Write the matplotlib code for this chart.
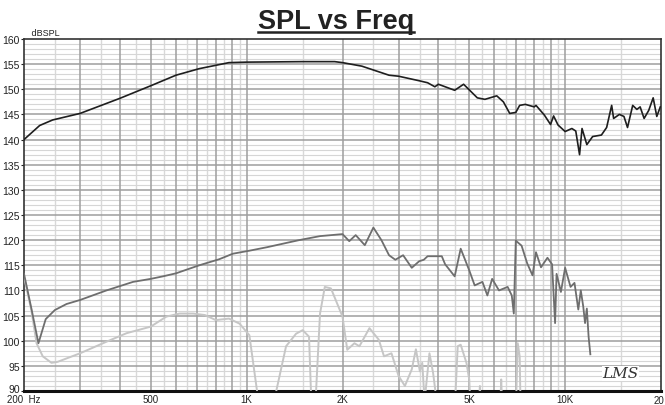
import matplotlib
matplotlib.use('Agg')
import matplotlib.pyplot as plt
import matplotlib.transforms as mtransforms
import numpy as np

plt.rcParams['font.family'] = ['Liberation Sans', 'DejaVu Sans']

# ---------------- data ----------------
fund_f = [200, 224, 246, 300, 400, 500, 600, 710, 880, 1000, 1500, 1890, 2000, 2300, 2800,
          3000, 3480, 3700, 3900, 4000, 4500, 4800, 5300, 5600, 6100, 6400, 6700, 7000, 7200,
          7500, 8000, 8100, 8600, 9000, 9200, 9500, 10000, 10500, 10800, 11100, 11300, 11700,
          12200, 13000, 13500, 14000, 14200, 14800, 15300, 15700, 16300, 16800, 17200, 17700,
          18300, 18900, 19400, 19900]
fund_db = [140.0, 142.8, 143.9, 145.2, 148.2, 150.7, 152.8, 154.1, 155.3, 155.4, 155.5, 155.5,
           155.3, 154.6, 152.8, 152.6, 151.7, 151.3, 150.5, 151.0, 149.8, 151.0, 148.3, 148.0,
           148.7, 147.5, 145.2, 145.4, 146.8, 147.0, 146.5, 146.8, 144.9, 143.0, 144.7, 142.9,
           141.6, 142.2, 141.7, 137.0, 142.2, 139.0, 140.6, 140.9, 142.4, 146.8, 144.2, 145.0,
           144.6, 142.4, 146.8, 146.0, 146.5, 144.2, 145.8, 148.3, 144.6, 146.5]

h2_f = [200, 211, 222, 234, 250, 272, 300, 363, 440, 500, 546, 600, 710, 820, 905, 1020, 1160,
        1460, 1700, 2000, 2100, 2200, 2350, 2500, 2650, 2800, 2930, 3100, 3300, 3480, 3600,
        3700, 4000, 4100, 4200, 4500, 4700, 5000, 5200, 5500, 5700, 5900, 6200, 6600, 6800,
        6900, 7000, 7300, 7600, 7900, 8100, 8400, 8800, 9100, 9300, 9400, 9700, 10000, 10400,
        10700, 11000, 11200, 11400, 11550, 11700, 11850, 12000]
h2_db = [113.3, 106.4, 99.5, 104.3, 106.1, 107.3, 108.1, 110.0, 111.7, 112.3, 112.8, 113.4,
         115.0, 116.2, 117.3, 117.9, 118.6, 120.0, 120.8, 121.2, 119.8, 121.0, 119.0, 122.5,
         120.0, 117.0, 116.1, 117.0, 114.5, 115.8, 116.1, 116.8, 116.8, 116.8, 115.2, 112.8,
         118.3, 114.0, 111.0, 111.7, 109.0, 112.3, 110.0, 110.7, 109.0, 105.4, 119.9, 118.9,
         115.4, 113.0, 117.6, 114.6, 116.5, 115.2, 103.5, 113.3, 109.7, 114.5, 110.7, 111.5,
         106.2, 110.0, 106.8, 103.5, 106.4, 100.8, 97.3]

h3_f = [200, 211, 219, 229, 244, 255, 300, 363, 420, 500, 560, 616, 680, 740, 800, 880, 950,
        1020, 1100, 1200, 1330, 1430, 1500, 1570, 1600, 1640, 1700, 1760, 1840, 2000, 2070,
        2180, 2260, 2430, 2600, 2700, 2850, 3000, 3140, 3300, 3400, 3500, 3560, 3620, 3750,
        3850, 3950, 4000, 4500, 4600, 4700, 4900, 5000, 5050, 5350, 5400, 5450, 6250, 6300,
        6350, 7000, 7100, 7200, 7250]
h3_db = [112.7, 106.0, 99.5, 96.9, 95.6, 95.8, 97.5, 99.8, 101.5, 102.8, 104.8, 105.4, 105.4,
         105.1, 104.1, 104.4, 103.4, 101.1, 86.0, 86.0, 98.9, 101.4, 102.1, 100.8, 86.0, 86.0,
         105.4, 110.7, 110.4, 104.8, 98.2, 99.5, 98.9, 102.5, 100.2, 96.9, 97.5, 93.0, 91.0,
         94.3, 98.3, 93.9, 95.6, 88.0, 97.5, 93.6, 88.0, 86.0, 86.0, 98.9, 99.2, 95.6, 92.3,
         86.0, 86.0, 91.0, 86.0, 86.0, 92.3, 86.0, 86.0, 99.5, 96.9, 86.0]

x_ticks = [200, 500, 1000, 2000, 5000, 10000]
x_labels = ['200  Hz', '500', '1K', '2K', '5K', '10K']
y_ticks = list(range(90, 161, 5))

# ---------------- figure ----------------
W, H = 665, 406
fig = plt.figure(figsize=(W / 100, H / 100), dpi=100)
fig.patch.set_facecolor('white')
L, R, T, B = 24, 661, 40, 392
ax = fig.add_axes([L / W, 1 - B / H, (R - L) / W, (B - T) / H])
ax.set_xscale('log')
ax.set_xlim(200, 20000)
ax.set_ylim(90, 160)

# grid
dark_v = list(range(300, 1001, 100)) + list(range(2000, 10001, 1000))
light_v = list(range(250, 1000, 100)) + [1500] + list(range(2500, 10000, 1000)) + [15000]
for v in light_v:
    ax.axvline(v, color='#d9d9d9', lw=1.0, zorder=1)
for v in dark_v:
    ax.axvline(v, color='#9e9e9e', lw=1.1, zorder=2)
for yv in range(91, 160):
    if yv % 5:
        ax.axhline(yv, color='#d6d6d6', lw=0.8, zorder=1)
for yv in range(95, 160, 5):
    ax.axhline(yv, color='#9e9e9e', lw=1.1, zorder=2)

# curves
ax.plot(h3_f, h3_db, color='#c6c6c6', lw=1.4, zorder=3)
ax.plot(h2_f, h2_db, color='#6e6e6e', lw=1.3, zorder=4)
ax.plot(fund_f, fund_db, color='#1e1e1e', lw=1.2, zorder=5)

# axes styling
ax.set_xticks(x_ticks)
ax.set_xticklabels(x_labels)
ax.minorticks_off()
ax.set_yticks(y_ticks)
ax.set_yticklabels([str(v) for v in y_ticks])
ax.tick_params(axis='x', length=0, labelsize=7, colors='#222222', pad=2.5)
ax.tick_params(axis='y', length=2, width=0.8, pad=1, labelsize=7.5, colors='#222222')
for s in ['left', 'top', 'right']:
    ax.spines[s].set_color('#333333')
    ax.spines[s].set_linewidth(1.2)
ax.spines['bottom'].set_color('#111111')
ax.spines['bottom'].set_linewidth(2.2)

# nudge the lowest y label up a little so it clears the "200 Hz" label
lbl90 = ax.get_yticklabels()[0]
lbl90.set_transform(lbl90.get_transform() +
                    mtransforms.ScaledTranslation(0, 3 / 100, fig.dpi_scale_trans))

fig.text(664 / W, 1 - 396 / H, '20', ha='right', va='top', fontsize=7, color='#222222')
ax.text(0.0, 1.005, '   dBSPL', transform=ax.transAxes, ha='left', va='bottom',
        fontsize=6.5, color='#222222')
ax.text(0.965, 0.03, 'LMS', transform=ax.transAxes, ha='right', va='bottom',
        fontsize=11, style='italic', family='DejaVu Serif', color='#333333', zorder=6,
        bbox=dict(facecolor='white', edgecolor='none', pad=0.5))

# title with underline
t = fig.text(0.505, 1 - 29 / H, 'SPL vs Freq', ha='center', va='baseline',
             fontsize=19.5, fontweight='bold', color='#222222')
fig.canvas.draw()
bb = t.get_window_extent()
yline = 1 - 33 / H
fig.add_artist(plt.Line2D([bb.x0 / W, bb.x1 / W], [yline, yline], color='#222222',
                          lw=1.8, transform=fig.transFigure))

fig.savefig('out.png', dpi=100)
